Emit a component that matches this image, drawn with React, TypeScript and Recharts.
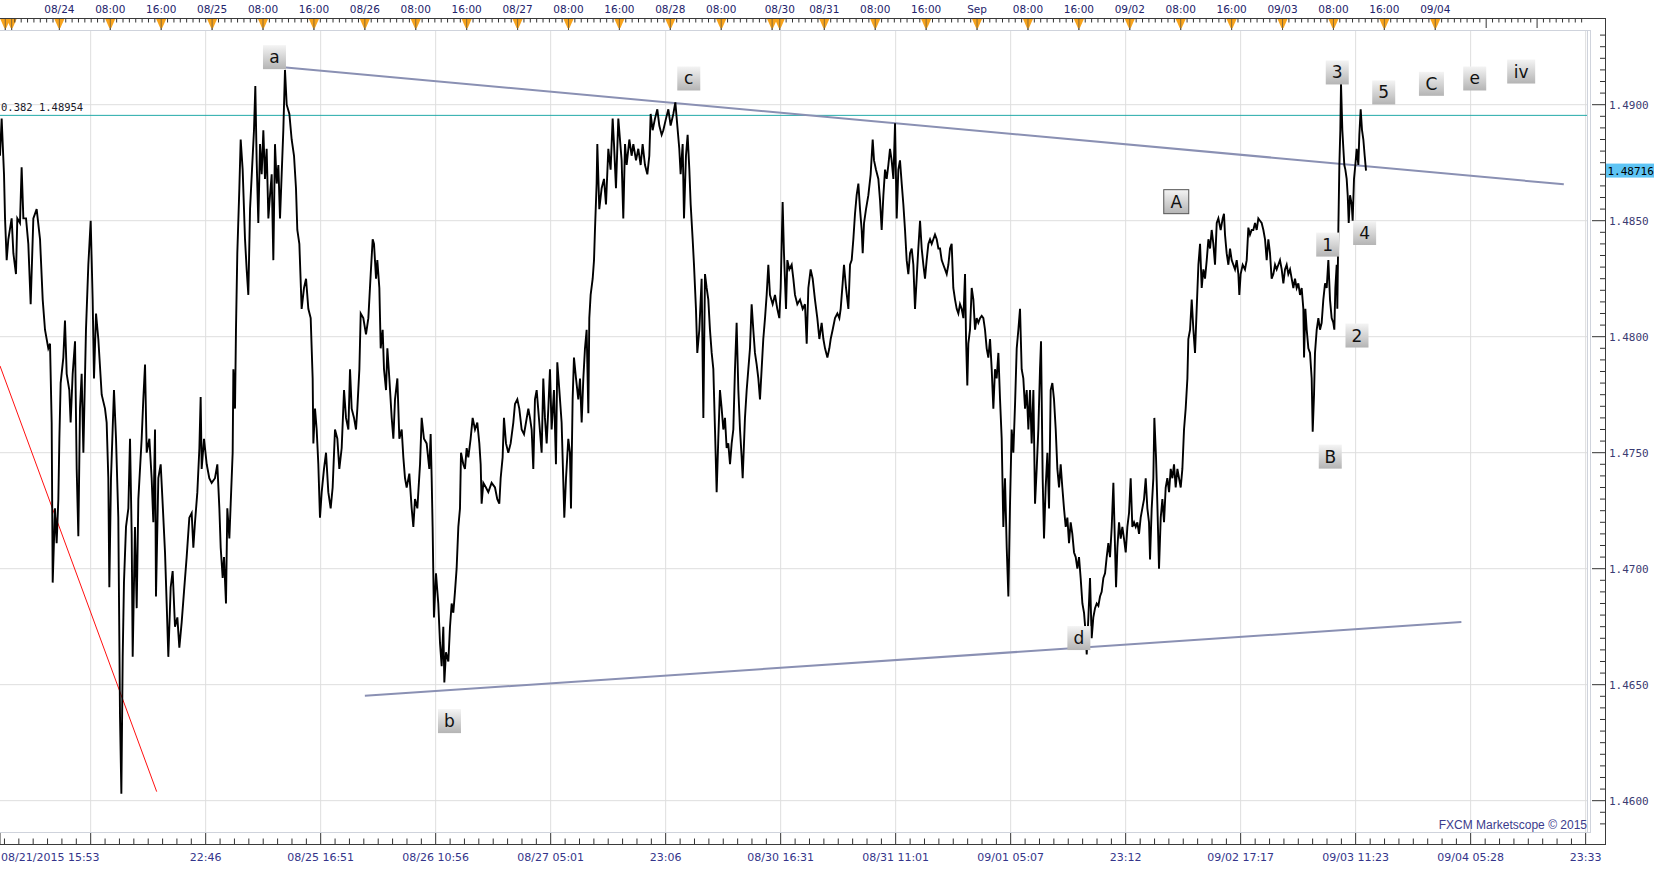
import React from "react"
import { LineChart, Line, XAxis, YAxis, CartesianGrid, ReferenceLine, ReferenceDot } from "recharts"

// [hours since 08/24 00:00 on the broker time scale (weekend removed), price]
const aug21to24: [number, number][] = [
  [-9.33, 1.4878], [-9.07, 1.4894], [-8.7, 1.487], [-8.54, 1.4851], [-8.28, 1.4833], [-8.02, 1.4842], [-7.5, 1.4851],
  [-7.23, 1.4836], [-6.82, 1.4827], [-6.61, 1.4851], [-6.19, 1.4849], [-5.93, 1.4873], [-5.66, 1.4851], [-5.24, 1.4851],
  [-4.88, 1.484], [-4.51, 1.4814], [-4.09, 1.4851], [-3.57, 1.4855], [-3.04, 1.4842], [-2.62, 1.4816], [-2.26, 1.4803],
  [-1.74, 1.4795], [-1.47, 1.4797], [-1.21, 1.4763], [-1.05, 1.4694], [-0.69, 1.4726], [-0.43, 1.4711], [-0.16, 1.473],
  [0.0, 1.4756], [0.2, 1.478], [0.62, 1.4791], [0.88, 1.4807], [1.15, 1.4784], [1.56, 1.4777], [1.77, 1.4763],
  [2.09, 1.4784], [2.46, 1.4798], [2.72, 1.4743], [2.98, 1.4714], [3.24, 1.4769], [3.5, 1.4784], [3.77, 1.475],
  [4.18, 1.4803], [4.55, 1.4831], [4.92, 1.485], [5.23, 1.4816], [5.44, 1.4782], [5.76, 1.481], [6.12, 1.4799],
  [6.65, 1.4775], [7.17, 1.4769], [7.43, 1.4763], [7.69, 1.4739], [7.85, 1.4692], [8.11, 1.4739], [8.37, 1.476],
  [8.58, 1.4777], [8.9, 1.4756], [9.26, 1.4722], [9.53, 1.4636], [9.74, 1.4603], [9.95, 1.4662], [10.15, 1.4694],
  [10.47, 1.4718], [10.84, 1.4726], [11.1, 1.4756], [11.36, 1.4715], [11.52, 1.4662], [11.88, 1.4718], [12.15, 1.4683],
  [12.41, 1.473], [12.67, 1.4743], [12.93, 1.4756], [13.19, 1.4773], [13.46, 1.4788], [13.72, 1.475], [14.14, 1.4756],
  [14.5, 1.4739], [14.76, 1.472], [15.03, 1.476], [15.18, 1.4688], [15.55, 1.4739], [15.92, 1.4745], [16.23, 1.4728],
  [16.6, 1.4707], [16.86, 1.4685], [17.12, 1.4662], [17.49, 1.4692], [17.8, 1.4699], [18.17, 1.4675], [18.54, 1.4679],
  [18.85, 1.4666], [19.22, 1.4677], [19.58, 1.469], [20.0, 1.4705], [20.42, 1.4722], [20.79, 1.4724], [21.05, 1.4709],
  [21.31, 1.472], [21.68, 1.4733], [22.0, 1.4752], [22.2, 1.4774], [22.36, 1.4743], [22.73, 1.4756], [23.15, 1.4745],
  [23.56, 1.4739], [23.93, 1.4737],
]

const aug25: [number, number][] = [
  [24.45, 1.4739], [24.82, 1.4745], [25.14, 1.4726], [25.35, 1.4709], [25.66, 1.4696], [25.87, 1.4705], [26.18, 1.4685],
  [26.39, 1.4726], [26.71, 1.4713], [26.92, 1.4728], [27.23, 1.475], [27.34, 1.4786], [27.6, 1.4769], [27.75, 1.4803],
  [27.96, 1.4836], [28.28, 1.4864], [28.49, 1.4885], [28.8, 1.4872], [29.17, 1.4842], [29.43, 1.4829], [29.69, 1.4818],
  [29.96, 1.4855], [30.27, 1.4872], [30.58, 1.4889], [30.79, 1.4908], [31.0, 1.4876], [31.26, 1.4849], [31.53, 1.4883],
  [31.79, 1.487], [32.05, 1.4889], [32.31, 1.4868], [32.57, 1.4881], [32.84, 1.4851], [33.1, 1.4861], [33.36, 1.487],
  [33.62, 1.4833], [33.88, 1.4883], [34.15, 1.4866], [34.41, 1.4874], [34.67, 1.4851], [34.93, 1.487], [35.19, 1.4889],
  [35.45, 1.4915], [35.72, 1.49], [36.14, 1.4896], [36.5, 1.4885], [36.87, 1.4878], [37.18, 1.4864], [37.39, 1.4846],
  [37.71, 1.484], [38.07, 1.4812], [38.44, 1.4821], [38.76, 1.4825], [39.12, 1.4812], [39.49, 1.4808], [39.8, 1.4782],
  [39.91, 1.4754], [40.17, 1.4769], [40.43, 1.476], [40.69, 1.4745], [40.95, 1.4722], [41.22, 1.4733], [41.58, 1.4743],
  [41.9, 1.475], [42.26, 1.4733], [42.63, 1.4726], [42.94, 1.4735], [43.31, 1.476], [43.68, 1.4756], [43.99, 1.4743],
  [44.36, 1.4752], [44.73, 1.4777], [45.04, 1.4765], [45.41, 1.476], [45.67, 1.4786], [45.93, 1.4769], [46.3, 1.4765],
  [46.61, 1.476], [46.82, 1.4769], [47.14, 1.4786], [47.35, 1.481], [47.76, 1.4808],
]

const aug26: [number, number][] = [
  [48.18, 1.4801], [48.55, 1.4808], [48.92, 1.4827], [49.23, 1.4842], [49.44, 1.484], [49.76, 1.4825], [49.96, 1.4833],
  [50.28, 1.4821], [50.49, 1.4795], [50.8, 1.4803], [51.01, 1.4786], [51.33, 1.4777], [51.54, 1.4795], [51.85, 1.4782],
  [52.22, 1.4765], [52.48, 1.4756], [52.74, 1.4773], [53.11, 1.4782], [53.42, 1.4756], [53.79, 1.476], [54.05, 1.4748],
  [54.31, 1.4739], [54.57, 1.4735], [54.99, 1.4741], [55.36, 1.4726], [55.62, 1.4718], [55.88, 1.473], [56.25, 1.4726],
  [56.67, 1.4745], [56.93, 1.4765], [57.29, 1.4756], [57.71, 1.4754], [58.13, 1.4743], [58.34, 1.4758], [58.5, 1.4739],
  [58.65, 1.4718], [58.86, 1.4679], [59.18, 1.4698], [59.54, 1.4685], [59.81, 1.4668], [60.07, 1.4658], [60.33, 1.4675],
  [60.49, 1.4651], [60.75, 1.4664], [61.12, 1.466], [61.38, 1.4675], [61.64, 1.4685], [61.9, 1.4681], [62.16, 1.469],
  [62.42, 1.47], [62.69, 1.4718], [62.95, 1.4726], [63.11, 1.475], [63.47, 1.4745], [63.73, 1.4743], [64.0, 1.4752],
  [64.26, 1.4748], [64.62, 1.4756], [64.94, 1.4765], [65.31, 1.476], [65.67, 1.4763], [65.99, 1.4754], [66.2, 1.4745],
  [66.35, 1.4728], [66.62, 1.4737], [67.03, 1.4735], [67.4, 1.4733], [67.92, 1.4737], [68.45, 1.4735], [68.81, 1.473],
  [69.13, 1.4728], [69.34, 1.4739], [69.65, 1.4748], [69.86, 1.4765], [70.18, 1.4754], [70.54, 1.475], [70.91, 1.4754],
  [71.33, 1.4763], [71.59, 1.4771],
]

const aug27: [number, number][] = [
  [71.96, 1.4773], [72.27, 1.4769], [72.64, 1.476], [73.01, 1.4758], [73.32, 1.4763], [73.69, 1.4769], [73.95, 1.4765],
  [74.21, 1.476], [74.47, 1.4743], [74.73, 1.4773], [75.0, 1.4777], [75.41, 1.4763], [75.78, 1.475], [76.04, 1.4782],
  [76.3, 1.4765], [76.57, 1.4754], [76.83, 1.4769], [77.09, 1.4786], [77.35, 1.476], [77.72, 1.4777], [78.03, 1.4745],
  [78.24, 1.4789], [78.56, 1.4777], [78.92, 1.4763], [79.19, 1.4737], [79.34, 1.4722], [79.61, 1.4739], [79.97, 1.4756],
  [80.23, 1.475], [80.39, 1.4726], [80.65, 1.4773], [80.86, 1.4791], [81.18, 1.4782], [81.54, 1.4773], [81.81, 1.4782],
  [82.07, 1.4763], [82.33, 1.4782], [82.59, 1.4795], [82.85, 1.4803], [83.12, 1.4767], [83.27, 1.4808], [83.48, 1.4818],
  [83.8, 1.4825], [84.01, 1.4833], [84.16, 1.4846], [84.42, 1.4866], [84.53, 1.4883], [84.84, 1.4855], [85.21, 1.4864],
  [85.58, 1.4868], [85.89, 1.4857], [86.26, 1.4881], [86.62, 1.4872], [86.94, 1.4894], [87.15, 1.4883], [87.46, 1.4864],
  [87.83, 1.4894], [88.09, 1.4885], [88.35, 1.4876], [88.61, 1.4851], [88.88, 1.4883], [89.14, 1.4874], [89.56, 1.4885],
  [89.92, 1.4878], [90.19, 1.4883], [90.61, 1.4876], [90.97, 1.4881], [91.34, 1.4874], [91.65, 1.4883], [92.02, 1.4874],
  [92.39, 1.487], [92.7, 1.4878], [92.91, 1.4896], [93.22, 1.4889], [93.59, 1.4894], [93.96, 1.4898], [94.27, 1.4891],
  [94.64, 1.4887], [94.9, 1.4889], [95.32, 1.4894], [95.69, 1.4898],
]

const aug28: [number, number][] = [
  [96.05, 1.4891], [96.47, 1.4896], [96.79, 1.4901], [97.1, 1.4891], [97.41, 1.4881], [97.62, 1.487], [97.94, 1.4883],
  [98.15, 1.4851], [98.46, 1.4878], [98.72, 1.4887], [98.99, 1.4872], [99.2, 1.4857], [99.51, 1.4842], [99.72, 1.4831],
  [100.03, 1.4812], [100.24, 1.4793], [100.56, 1.4803], [100.92, 1.4825], [101.19, 1.4765], [101.45, 1.4827],
  [101.71, 1.4821], [101.97, 1.4816], [102.23, 1.4803], [102.5, 1.4793], [102.76, 1.4786], [103.02, 1.476],
  [103.28, 1.4733], [103.54, 1.4756], [103.8, 1.4777], [104.07, 1.4769], [104.33, 1.476], [104.59, 1.4765],
  [104.85, 1.4752], [105.11, 1.4754], [105.38, 1.4745], [105.64, 1.4754], [105.9, 1.476], [106.16, 1.4786],
  [106.42, 1.4806], [106.69, 1.4777], [106.95, 1.476], [107.21, 1.4748], [107.37, 1.4739], [107.73, 1.4765],
  [108.0, 1.4777], [108.26, 1.4786], [108.52, 1.4795], [108.78, 1.4814], [109.04, 1.4803], [109.3, 1.4793],
  [109.57, 1.4788], [109.83, 1.4782], [110.09, 1.4773], [110.35, 1.4786], [110.61, 1.4799], [110.88, 1.4808],
  [111.14, 1.4818], [111.4, 1.4831], [111.66, 1.4818], [112.08, 1.4814], [112.45, 1.4818], [112.81, 1.4812],
  [113.13, 1.4808],
]

const aug31: [number, number][] = [
  [113.34, 1.4821], [113.65, 1.4858], [113.86, 1.4836], [114.18, 1.4812], [114.39, 1.4833], [114.7, 1.4829],
  [115.07, 1.4831], [115.33, 1.4825], [115.59, 1.4818], [115.96, 1.4814], [116.38, 1.4816], [116.8, 1.4812],
  [117.16, 1.4814], [117.43, 1.4797], [117.69, 1.4821], [118.05, 1.4829], [118.37, 1.4825], [118.73, 1.4816],
  [119.1, 1.4808], [119.42, 1.4799], [119.78, 1.4806], [120.05, 1.4799], [120.31, 1.4795], [120.68, 1.4791],
  [120.99, 1.4795], [121.2, 1.4799], [121.51, 1.4803], [121.88, 1.4808], [122.25, 1.481], [122.56, 1.4808],
  [122.77, 1.4812], [123.08, 1.4823], [123.29, 1.4831], [123.61, 1.4821], [123.98, 1.4812], [124.24, 1.4831],
  [124.5, 1.4833], [124.76, 1.4842], [125.02, 1.4853], [125.28, 1.4861], [125.55, 1.4866], [125.81, 1.4855],
  [126.07, 1.4846], [126.23, 1.4836], [126.44, 1.4849], [126.75, 1.4855], [127.12, 1.4861], [127.48, 1.487],
  [127.8, 1.4885], [128.01, 1.4876], [128.32, 1.4872], [128.69, 1.4868], [128.95, 1.4859], [129.21, 1.4846],
  [129.48, 1.4861], [129.74, 1.4872], [130.0, 1.4868], [130.26, 1.4874], [130.52, 1.4881], [130.78, 1.4876],
  [131.05, 1.4868], [131.31, 1.4892], [131.57, 1.4851], [131.83, 1.4872], [132.09, 1.4876], [132.36, 1.4866],
  [132.62, 1.4857], [132.88, 1.4846], [133.14, 1.4833], [133.4, 1.4827], [133.67, 1.4836], [133.93, 1.4838],
  [134.19, 1.4831], [134.45, 1.4812], [134.71, 1.4825], [134.97, 1.4838], [135.24, 1.485], [135.5, 1.4838],
  [135.76, 1.4831], [136.02, 1.4825], [136.28, 1.4833], [136.55, 1.484], [136.81, 1.4842], [137.07, 1.484],
  [137.33, 1.4842], [137.59, 1.4844], [137.86, 1.4842], [138.12, 1.4838], [138.38, 1.4838], [138.64, 1.4833],
  [138.9, 1.4831], [139.17, 1.4829], [139.43, 1.4827], [139.69, 1.4831], [139.95, 1.4838], [140.21, 1.484],
  [140.47, 1.4821], [140.74, 1.4816], [141.0, 1.4812], [141.26, 1.481], [141.52, 1.4814], [141.78, 1.4812],
  [142.05, 1.4808], [142.31, 1.4827], [142.47, 1.4799], [142.67, 1.4779], [142.83, 1.4797], [143.09, 1.4803],
  [143.36, 1.4821], [143.62, 1.4816], [143.88, 1.4803], [144.14, 1.4808],
]

const sep01: [number, number][] = [
  [144.4, 1.4806], [144.67, 1.4808], [144.93, 1.4809], [145.19, 1.4808], [145.45, 1.4803], [145.71, 1.4795],
  [145.97, 1.4791], [146.24, 1.4799], [146.5, 1.4786], [146.76, 1.4769], [147.02, 1.4786], [147.28, 1.4782],
  [147.55, 1.4793], [147.81, 1.4773], [148.07, 1.4756], [148.33, 1.4718], [148.59, 1.4739], [148.86, 1.4709],
  [149.12, 1.4688], [149.38, 1.4728], [149.64, 1.476], [149.9, 1.475], [150.17, 1.4771], [150.43, 1.4795],
  [150.69, 1.4803], [150.95, 1.4812], [151.21, 1.4786], [151.47, 1.4782], [151.74, 1.4769], [152.0, 1.4777],
  [152.26, 1.476], [152.52, 1.4777], [152.78, 1.4754], [153.05, 1.4777], [153.31, 1.4728], [153.57, 1.4743],
  [153.83, 1.476], [154.09, 1.4786], [154.25, 1.4798], [154.51, 1.4739], [154.72, 1.4713], [154.98, 1.4735],
  [155.25, 1.475], [155.51, 1.4726], [155.77, 1.4777], [156.03, 1.478], [156.29, 1.4773], [156.56, 1.476],
  [156.82, 1.4743], [157.08, 1.4735], [157.34, 1.4745], [157.6, 1.4735], [157.86, 1.4726], [158.13, 1.4718],
  [158.39, 1.4722], [158.65, 1.4711], [158.91, 1.472], [159.17, 1.4715], [159.44, 1.4707], [159.7, 1.4705],
  [159.96, 1.47], [160.22, 1.4705], [160.48, 1.4696], [160.75, 1.4685], [161.01, 1.4681], [161.27, 1.4672],
  [161.43, 1.4663], [161.69, 1.4679], [161.95, 1.4696], [162.21, 1.467], [162.47, 1.4679], [162.74, 1.4683],
  [163.0, 1.4685], [163.26, 1.4684], [163.52, 1.4688], [163.78, 1.469], [164.05, 1.4696], [164.31, 1.4698],
  [164.57, 1.4705], [164.83, 1.4711], [165.09, 1.4705], [165.36, 1.4718], [165.62, 1.4737], [165.88, 1.4709],
  [166.04, 1.4692], [166.25, 1.4709], [166.51, 1.472], [166.77, 1.4713], [167.03, 1.4718], [167.29, 1.4713],
  [167.56, 1.4707], [167.82, 1.4718], [168.08, 1.4724],
]

const sep02: [number, number][] = [
  [168.34, 1.4739], [168.6, 1.4718], [168.87, 1.472], [169.13, 1.4718], [169.39, 1.472], [169.65, 1.4715],
  [169.91, 1.4722], [170.17, 1.4726], [170.44, 1.473], [170.7, 1.4739], [170.96, 1.4726], [171.22, 1.472],
  [171.38, 1.4704], [171.64, 1.4726], [171.9, 1.4739], [172.06, 1.4765], [172.32, 1.4748], [172.53, 1.4728],
  [172.79, 1.47], [173.06, 1.4722], [173.32, 1.473], [173.58, 1.472], [173.84, 1.4735], [174.1, 1.4739],
  [174.37, 1.4733], [174.63, 1.4743], [174.89, 1.4739], [175.15, 1.4745], [175.41, 1.4735], [175.68, 1.4743],
  [175.94, 1.4739], [176.2, 1.4735], [176.46, 1.4743], [176.72, 1.476], [176.98, 1.4769], [177.25, 1.4782],
  [177.4, 1.4799], [177.67, 1.4803], [177.93, 1.4816], [178.19, 1.4803], [178.45, 1.4793], [178.71, 1.4812],
  [178.98, 1.4831], [179.24, 1.484], [179.5, 1.4821], [179.76, 1.4829], [180.02, 1.4825], [180.29, 1.4833],
  [180.55, 1.4842], [180.81, 1.4838], [181.07, 1.4846], [181.33, 1.484], [181.59, 1.4831], [181.86, 1.4849],
  [182.12, 1.4851], [182.48, 1.4846], [182.8, 1.4851], [183.0, 1.4853], [183.16, 1.4844], [183.42, 1.4836],
  [183.69, 1.4831], [183.95, 1.4838], [184.21, 1.4833], [184.47, 1.4831], [184.73, 1.4829], [185.0, 1.4833],
  [185.26, 1.4827], [185.41, 1.4818], [185.62, 1.4827], [185.94, 1.4831], [186.3, 1.4829], [186.57, 1.4833],
  [186.83, 1.4847], [187.09, 1.4844], [187.35, 1.4846], [187.61, 1.4846], [187.88, 1.4849], [188.14, 1.4846],
  [188.4, 1.4851], [188.66, 1.485], [188.92, 1.4849], [189.19, 1.4846], [189.45, 1.4842], [189.71, 1.4833],
  [189.97, 1.4842], [190.23, 1.4836], [190.49, 1.4825], [190.76, 1.4827], [191.02, 1.4831], [191.28, 1.4829],
  [191.54, 1.4831], [191.8, 1.4833], [192.07, 1.4829],
]

const sep03: [number, number][] = [
  [192.33, 1.4823], [192.59, 1.4829], [192.85, 1.4831], [193.11, 1.4827], [193.38, 1.4829], [193.64, 1.4825],
  [193.9, 1.4821], [194.16, 1.4825], [194.42, 1.4821], [194.68, 1.4823], [194.95, 1.4818], [195.21, 1.4821],
  [195.47, 1.4812], [195.58, 1.4791], [195.79, 1.4812], [196.0, 1.4803], [196.26, 1.4795], [196.52, 1.4793],
  [196.78, 1.4782], [196.94, 1.4759], [197.15, 1.4775], [197.3, 1.4793], [197.57, 1.4803], [197.83, 1.4808],
  [198.09, 1.4803], [198.35, 1.4806], [198.61, 1.4816], [198.88, 1.4823], [199.14, 1.4821], [199.4, 1.4833],
  [199.66, 1.4816], [199.92, 1.4808], [200.18, 1.4806], [200.34, 1.4803], [200.5, 1.4821], [200.71, 1.4831],
  [200.81, 1.4812], [200.97, 1.4846], [201.13, 1.4874], [201.28, 1.4889], [201.39, 1.4909], [201.6, 1.4889],
  [201.76, 1.4881], [201.91, 1.4874], [202.07, 1.4872], [202.28, 1.4868], [202.44, 1.4861], [202.6, 1.4849],
  [202.81, 1.4861], [203.07, 1.4857], [203.22, 1.485], [203.43, 1.4868], [203.64, 1.4874], [203.85, 1.4881],
  [204.11, 1.4874], [204.27, 1.4887], [204.48, 1.4898], [204.69, 1.4889], [204.9, 1.4885], [205.11, 1.4878],
  [205.32, 1.48716],
]

const priceData = [...aug21to24, ...aug25, ...aug26, ...aug27, ...aug28, ...aug31, ...sep01, ...sep02, ...sep03].map(
  ([t, p]) => ({ t, p })
)

const lastPrice = 1.48716
const fibLevel = 1.48954
const fibText = "0.382 1.48954"

// trendline end points [hour, price]
const upperTrend: [number, number][] = [[35.6, 1.4916], [236.4, 1.48657]]
const lowerTrend: [number, number][] = [[48.0, 1.46452], [220.3, 1.4677]]
const redTrend: [number, number][] = [[-9.33, 1.47874], [15.29, 1.46039]]

// wave labels [text, hour, price]
const waveLabels: [string, number, number][] = [
  ["a", 33.8, 1.49205],
  ["c", 98.9, 1.49113],
  ["b", 61.3, 1.46343],
  ["d", 160.2, 1.46701],
  ["A", 175.5, 1.48582],
  ["B", 199.7, 1.47483],
  ["1", 199.3, 1.48397],
  ["2", 203.9, 1.48005],
  ["3", 200.8, 1.49139],
  ["4", 205.1, 1.48447],
  ["5", 208.1, 1.49053],
  ["C", 215.6, 1.4909],
  ["e", 222.4, 1.49113],
  ["iv", 229.7, 1.49143],
]

// top time scale
const topTickHours = [
  -8.5, -7.5, 0, 8, 16, 24, 32, 40, 48, 56, 64, 72, 80, 88, 96, 104, 112, 113.2, 120.2, 128.2, 136.2, 144.2, 152.2,
  160.2, 168.2, 176.2, 184.2, 192.2, 200.2, 208.2, 216.2,
]
const topTickLabels = [
  "", "", "08/24", "08:00", "16:00", "08/25", "08:00", "16:00", "08/26", "08:00", "16:00", "08/27", "08:00", "16:00",
  "08/28", "08:00", "", "08/30", "08/31", "08:00", "16:00", "Sep", "08:00", "16:00", "09/02", "08:00", "16:00",
  "09/03", "08:00", "16:00", "09/04",
]
const topEmptyHours = [224.2, 232.2]

// bottom time scale
const bottomTickHours = [
  -9.33, 4.92, 22.99, 41.06, 59.13, 77.2, 95.27, 113.34, 131.41, 149.48, 167.55, 185.62, 203.69, 221.76, 239.83,
]
const bottomTickLabels = [
  "08/21/2015 15:53", "", "22:46", "08/25 16:51", "08/26 10:56", "08/27 05:01", "23:06", "08/30 16:31",
  "08/31 11:01", "09/01 05:07", "23:12", "09/02 17:17", "09/03 11:23", "09/04 05:28", "23:33",
]

const priceTicks = [1.46, 1.465, 1.47, 1.475, 1.48, 1.485, 1.49]

const X_MIN = -9.33
const X_MAX = 240.2

const near = (a: number, b: number) => Math.abs(a - b) < 1e-6

const topMinor: number[] = []
for (let h = -7; h <= 111; h++) if (!topTickHours.some((m) => near(m, h))) topMinor.push(h)
for (let k = 1; k <= 126; k++) {
  const h = Math.round((113.2 + k) * 10) / 10
  if (h < X_MAX && !topTickHours.some((m) => near(m, h)) && !topEmptyHours.some((m) => near(m, h))) topMinor.push(h)
}
const topAllTicks = [...topTickHours, ...topEmptyHours, ...topMinor]

const bottomMinor: number[] = []
for (let k = -6; k <= 104; k++) {
  if (k % 8 === 0) continue
  const h = Math.round((4.92 + k * 2.259) * 100) / 100
  if (h > X_MIN && h < X_MAX) bottomMinor.push(h)
}
const bottomAllTicks = [...bottomTickHours, ...bottomMinor]

const yAllTicks: number[] = []
for (let v = 14590; v <= 14930; v += 5) yAllTicks.push(v / 10000)
yAllTicks.push(lastPrice)

const axisFont = "'DejaVu Sans', Verdana, sans-serif"
const monoFont = "'DejaVu Sans Mono', monospace"

const TopTick = (props: any) => {
  const { x, payload } = props
  const v = payload.value
  const i = topTickHours.findIndex((m) => near(m, v))
  if (i >= 0) {
    return (
      <g>
        <line x1={x} x2={x} y1={18} y2={31} stroke="#333" strokeWidth={1} />
        <path d={`M${x - 5},19 L${x + 5},19 L${x + 1},28 L${x - 1},28 Z`} fill="#f7a31c" />
        <line x1={x} x2={x} y1={19} y2={31} stroke="#6b5a3a" strokeWidth={0.8} />
        {topTickLabels[i] && (
          <text x={x} y={12.5} textAnchor="middle" fontSize={10.5} fontFamily={axisFont} fill="#23236b">
            {topTickLabels[i]}
          </text>
        )}
      </g>
    )
  }
  if (topEmptyHours.some((m) => near(m, v))) {
    return <line x1={x} x2={x} y1={18} y2={28} stroke="#333" strokeWidth={1} />
  }
  return <line x1={x} x2={x} y1={18} y2={22.5} stroke="#333" strokeWidth={1} />
}

const BottomTick = (props: any) => {
  const { x, payload } = props
  const v = payload.value
  const i = bottomTickHours.findIndex((m) => near(m, v))
  if (i >= 0) {
    return (
      <g>
        <line x1={x} x2={x} y1={832} y2={844} stroke="#333" strokeWidth={1} />
        {bottomTickLabels[i] && (
          <text
            x={i === 0 ? x + 1 : x}
            y={861}
            textAnchor={i === 0 ? "start" : "middle"}
            fontSize={11}
            fontFamily={axisFont}
            fill="#34348a"
          >
            {bottomTickLabels[i]}
          </text>
        )}
      </g>
    )
  }
  return <line x1={x} x2={x} y1={838.5} y2={844} stroke="#333" strokeWidth={1} />
}

const PriceTick = (props: any) => {
  const { y, payload } = props
  const v = payload.value
  if (near(v, lastPrice)) {
    return (
      <g>
        <rect x={1606} y={y - 7} width={48} height={14} fill="#5ec4f4" />
        <text x={1607.5} y={y + 4} fontSize={11} fontFamily={monoFont} fill="#000">
          {v.toFixed(5)}
        </text>
      </g>
    )
  }
  const major = priceTicks.some((m) => near(m, v))
  return (
    <g>
      <line x1={major ? 1592 : 1600} x2={1605} y1={y} y2={y} stroke="#333" strokeWidth={1} />
      {major && (
        <text x={1609} y={y + 4} fontSize={11} fontFamily={monoFont} fill="#3b3b72">
          {v.toFixed(4)}
        </text>
      )}
    </g>
  )
}

const FibLabel = (props: any) => {
  const { viewBox } = props
  return (
    <text x={viewBox.x + 1} y={viewBox.y - 4} fontSize={10.5} fontFamily={monoFont} fill="#1a1a2a">
      {fibText}
    </text>
  )
}

const WaveTag = ({ cx, cy, text, idx }: any) => {
  const w = text === "iv" ? 28 : text === "A" || text === "C" ? 25 : 23
  const gid = `wave-grad-${idx}`
  return (
    <g>
      <defs>
        <linearGradient id={gid} x1="0" y1="0" x2="0" y2="1">
          <stop offset="0%" stopColor="#f4f4f4" />
          <stop offset="100%" stopColor="#b4b4b4" />
        </linearGradient>
      </defs>
      <rect
        x={cx - w / 2}
        y={cy - 12}
        width={w}
        height={24}
        fill={`url(#${gid})`}
        stroke={text === "A" ? "#555" : "none"}
        strokeWidth={1}
      />
      <text x={cx} y={cy + 6} textAnchor="middle" fontSize={17} fontFamily={axisFont} fill="#111">
        {text}
      </text>
    </g>
  )
}

export default function App() {
  return (
    <div style={{ position: "absolute", left: 0, top: 0, width: 1663, height: 870, background: "#fff" }}>
      <LineChart width={1663} height={870} data={priceData} margin={{ top: 0, right: 0, bottom: 0, left: 0 }}>
        <CartesianGrid
          stroke="#dedede"
          horizontalValues={priceTicks}
          verticalValues={bottomTickHours.slice(1)}
        />
        <XAxis
          dataKey="t"
          type="number"
          domain={[X_MIN, X_MAX]}
          allowDataOverflow
          ticks={bottomAllTicks}
          interval={0}
          height={38}
          axisLine={false}
          tickLine={false}
          tick={BottomTick}
        />
        <XAxis
          xAxisId="top"
          orientation="top"
          dataKey="t"
          type="number"
          domain={[X_MIN, X_MAX]}
          allowDataOverflow
          ticks={topAllTicks}
          interval={0}
          height={30}
          axisLine={false}
          tickLine={false}
          tick={TopTick}
        />
        <YAxis
          orientation="right"
          type="number"
          domain={[1.45865, 1.49322]}
          allowDataOverflow
          ticks={yAllTicks}
          interval={0}
          width={75}
          axisLine={false}
          tickLine={false}
          tick={PriceTick}
        />
        <ReferenceLine y={fibLevel} stroke="#22aaa8" strokeWidth={1} label={<FibLabel />} />
        <ReferenceLine
          segment={redTrend.map(([x, y]) => ({ x, y }))}
          stroke="#ff1010"
          strokeWidth={1}
          ifOverflow="visible"
        />
        <ReferenceLine
          segment={upperTrend.map(([x, y]) => ({ x, y }))}
          stroke="#8a90b3"
          strokeWidth={2}
          ifOverflow="visible"
        />
        <ReferenceLine
          segment={lowerTrend.map(([x, y]) => ({ x, y }))}
          stroke="#8a90b3"
          strokeWidth={2}
          ifOverflow="visible"
        />
        <Line
          type="linear"
          dataKey="p"
          stroke="#000"
          strokeWidth={1.9}
          dot={false}
          activeDot={false}
          isAnimationActive={false}
        />
        {waveLabels.map(([text, t, p], idx) => (
          <ReferenceDot
            key={`w-${idx}`}
            x={t}
            y={p}
            r={1}
            ifOverflow="visible"
            shape={(s: any) => <WaveTag cx={s.cx} cy={s.cy} text={text} idx={idx} />}
          />
        ))}
      </LineChart>
      <svg
        width={1663}
        height={870}
        style={{ position: "absolute", left: 0, top: 0, pointerEvents: "none" }}
      >
        <line x1={0} x2={1606} y1={18.5} y2={18.5} stroke="#3a3a3a" />
        <line x1={0} x2={1591} y1={30.5} y2={30.5} stroke="#cfd3dc" />
        <line x1={1587.5} x2={1587.5} y1={30} y2={833} stroke="#cfd3dc" />
        <line x1={1590.5} x2={1590.5} y1={30} y2={833} stroke="#cfd3dc" />
        <line x1={0} x2={1591} y1={832.5} y2={832.5} stroke="#cfd3dc" />
        <line x1={0} x2={1606} y1={844.5} y2={844.5} stroke="#3a3a3a" />
        <line x1={1605.5} x2={1605.5} y1={18} y2={845} stroke="#3a3a3a" />
        <text x={1587} y={829} textAnchor="end" fontSize={12} fontFamily="'Liberation Sans', Arial, sans-serif" fill="#3b3b8c">
          FXCM Marketscope © 2015
        </text>
      </svg>
    </div>
  )
}
